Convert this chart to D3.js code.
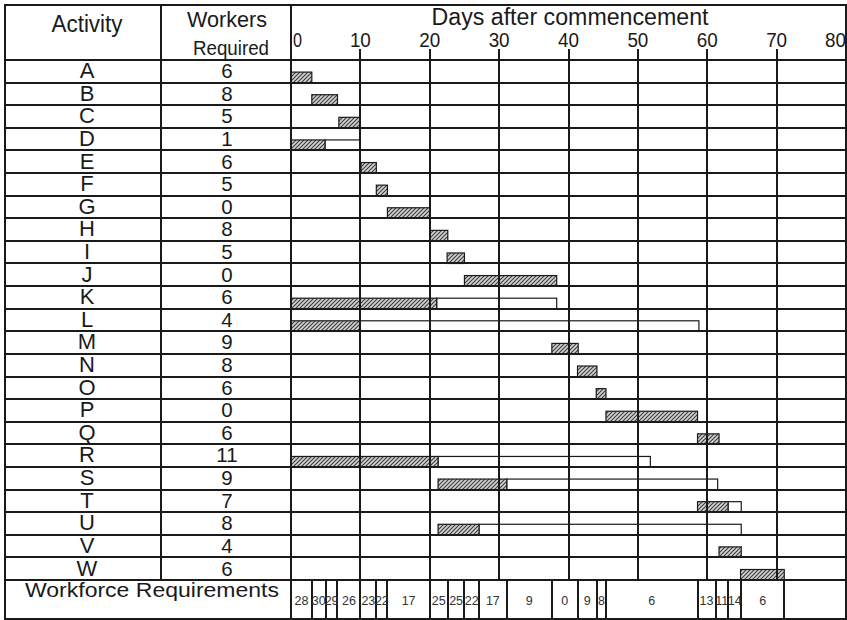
<!DOCTYPE html>
<html>
<head>
<meta charset="utf-8">
<script src="https://cdn.jsdelivr.net/npm/d3@7"></script>
<style>
  body { margin: 0; background: #fff; }
  svg { display: block; font-family: "Liberation Sans", Arial, sans-serif; }
  .grid { stroke: #1a1a1a; stroke-width: 1.5; shape-rendering: crispEdges; }
  text { fill: #1a1a1a; }
</style>
</head>
<body>
<div class="canvas"></div>
<script>
const activities = ["A","B","C","D","E","F","G","H","I","J","K","L","M","N","O","P","Q","R","S","T","U","V","W"];
const workers = [6, 8, 5, 1, 6, 5, 0, 8, 5, 0, 6, 4, 9, 8, 6, 0, 6, 11, 9, 7, 8, 4, 6];
const earlyStart = [0, 3, 6.9, 0, 10.1, 12.3, 13.9, 20, 22.5, 25, 0, 0, 37.6, 41.3, 44, 45.4, 58.6, 0, 21.2, 58.6, 21.2, 61.7, 64.8];
const earlyFinish = [3, 6.7, 10, 4.9, 12.3, 13.9, 20, 22.6, 25, 38.3, 21, 10, 41.4, 44.1, 45.4, 58.6, 61.7, 21.2, 31.1, 63, 27.1, 64.9, 71.1];
const lateFinish = [null, null, null, 10, null, null, null, null, null, null, 38.3, 58.8, null, null, null, null, null, 51.8, 61.5, 64.9, 64.9, null, null];

const dayTicks = [0, 10, 20, 30, 40, 50, 60, 70, 80];
const workforceBreaks = [0, 3, 5, 6.7, 10, 12.3, 13.9, 20, 22.6, 25, 27.1, 31.1, 37.6, 41.3, 44.1, 45.4, 58.6, 61.2, 63, 64.9, 71.1];
const workforceValues = [28, 30, 29, 26, 23, 22, 17, 25, 25, 22, 17, 9, 0, 9, 8, 6, 13, 11, 14, 6];

const W = 847, H = 620;
const frame = { left: 5, col1: 161, col2: 291, right: 846, top: 5, head: 60, body: 580, bottom: 619 };

const x = d3.scaleLinear().domain([0, 80]).range([frame.col2, frame.right]);
const y = d3.scaleBand().domain(activities).range([frame.head, frame.body]);
const barH = 10.5;

const svg = d3.select(".canvas").append("svg").attr("width", W).attr("height", H);

const defs = svg.append("defs");
const hatch = defs.append("pattern")
  .attr("id", "hatch")
  .attr("patternUnits", "userSpaceOnUse")
  .attr("width", 4)
  .attr("height", 4);
hatch.append("rect").attr("width", 4).attr("height", 4).attr("fill", "#d2d2d2");
hatch.append("path")
  .attr("d", "M-1,1 l2,-2 M0,4 l4,-4 M3,5 l2,-2")
  .attr("stroke", "#3a3a3a")
  .attr("stroke-width", 1.1);

const rows = activities.map((a, i) => ({
  name: a, workers: workers[i], es: earlyStart[i], ef: earlyFinish[i], lf: lateFinish[i]
}));

// float boxes, then the hatched activity bars
svg.selectAll(".float")
  .data(rows.filter((d) => d.lf !== null))
  .enter()
  .append("rect")
  .attr("class", "float")
  .attr("x", (d) => x(d.ef))
  .attr("y", (d) => y(d.name) + y.bandwidth() - barH)
  .attr("width", (d) => x(d.lf) - x(d.ef))
  .attr("height", barH)
  .attr("fill", "#fff")
  .attr("stroke", "#1a1a1a")
  .attr("stroke-width", 1.2);

svg.selectAll(".bar")
  .data(rows)
  .enter()
  .append("rect")
  .attr("class", "bar")
  .attr("x", (d) => x(d.es))
  .attr("y", (d) => y(d.name) + y.bandwidth() - barH)
  .attr("width", (d) => x(d.ef) - x(d.es))
  .attr("height", barH)
  .attr("fill", "url(#hatch)")
  .attr("stroke", "#1a1a1a")
  .attr("stroke-width", 1.2);

// day grid lines with little ticks above the header line
svg.selectAll(".dayline")
  .data(dayTicks.filter((d) => d > 0 && d < 80))
  .enter()
  .append("line")
  .attr("class", "grid")
  .attr("x1", (d) => Math.round(x(d)))
  .attr("x2", (d) => Math.round(x(d)))
  .attr("y1", 49)
  .attr("y2", frame.body);

// row lines
const rowLines = activities.map((a) => y(a)).concat([frame.body]);
svg.selectAll(".rowline")
  .data(rowLines)
  .enter()
  .append("line")
  .attr("class", "grid")
  .attr("x1", frame.left)
  .attr("x2", frame.right)
  .attr("y1", (d) => Math.round(d))
  .attr("y2", (d) => Math.round(d));

// outer frame and columns
svg.append("rect")
  .attr("class", "grid")
  .attr("x", frame.left).attr("y", frame.top)
  .attr("width", frame.right - frame.left).attr("height", frame.bottom - frame.top)
  .attr("fill", "none");
svg.append("line").attr("class", "grid")
  .attr("x1", frame.col1).attr("x2", frame.col1).attr("y1", frame.top).attr("y2", frame.body);
svg.append("line").attr("class", "grid")
  .attr("x1", frame.col2).attr("x2", frame.col2).attr("y1", frame.top).attr("y2", frame.bottom);

// header
svg.append("text").text("Activity")
  .attr("x", 87).attr("y", 31.5).attr("text-anchor", "middle")
  .attr("font-size", 23).attr("textLength", 71).attr("lengthAdjust", "spacingAndGlyphs");
svg.append("text").text("Workers")
  .attr("x", 227).attr("y", 26.5).attr("text-anchor", "middle")
  .attr("font-size", 22.5).attr("textLength", 80).attr("lengthAdjust", "spacingAndGlyphs");
svg.append("text").text("Required")
  .attr("x", 231).attr("y", 54.5).attr("text-anchor", "middle")
  .attr("font-size", 21).attr("textLength", 76).attr("lengthAdjust", "spacingAndGlyphs");
svg.append("text").text("Days after commencement")
  .attr("x", 431.5).attr("y", 25)
  .attr("font-size", 23).attr("textLength", 277).attr("lengthAdjust", "spacingAndGlyphs");

svg.selectAll(".daylabel")
  .data(dayTicks)
  .enter()
  .append("text")
  .attr("class", "daylabel")
  .text((d) => d)
  .attr("x", (d) => (d === 0 ? x(d) + 2 : x(d)))
  .attr("text-anchor", (d) => (d === 0 ? "start" : d === 80 ? "end" : "middle"))
  .attr("y", 47)
  .attr("font-size", 20)
  .attr("textLength", (d) => (d === 0 ? 9 : 21))
  .attr("lengthAdjust", "spacingAndGlyphs");

// row labels
svg.selectAll(".actlabel")
  .data(rows)
  .enter()
  .append("text")
  .text((d) => d.name)
  .attr("x", 87)
  .attr("y", (d) => y(d.name) + y.bandwidth() - 4.5)
  .attr("text-anchor", "middle")
  .attr("font-size", 22);

svg.selectAll(".wlabel")
  .data(rows)
  .enter()
  .append("text")
  .text((d) => d.workers)
  .attr("x", 227)
  .attr("y", (d) => y(d.name) + y.bandwidth() - 4.5)
  .attr("text-anchor", "middle")
  .attr("font-size", 20.5);

// workforce requirements row
svg.append("text").text("Workforce Requirements")
  .attr("x", 25).attr("y", 597)
  .attr("font-size", 19.5).attr("textLength", 254).attr("lengthAdjust", "spacingAndGlyphs");

svg.selectAll(".wfline")
  .data(workforceBreaks.slice(1))
  .enter()
  .append("line")
  .attr("class", "grid")
  .attr("stroke-width", 1.2)
  .attr("x1", (d) => Math.round(x(d)))
  .attr("x2", (d) => Math.round(x(d)))
  .attr("y1", frame.body)
  .attr("y2", frame.bottom);

svg.selectAll(".wfvalue")
  .data(workforceValues)
  .enter()
  .append("text")
  .text((d) => d)
  .attr("x", (d, i) => (x(workforceBreaks[i]) + x(workforceBreaks[i + 1])) / 2)
  .attr("y", 605)
  .attr("text-anchor", "middle")
  .attr("font-size", 12.5)
  .style("fill", "#333");
</script>
</body>
</html>
